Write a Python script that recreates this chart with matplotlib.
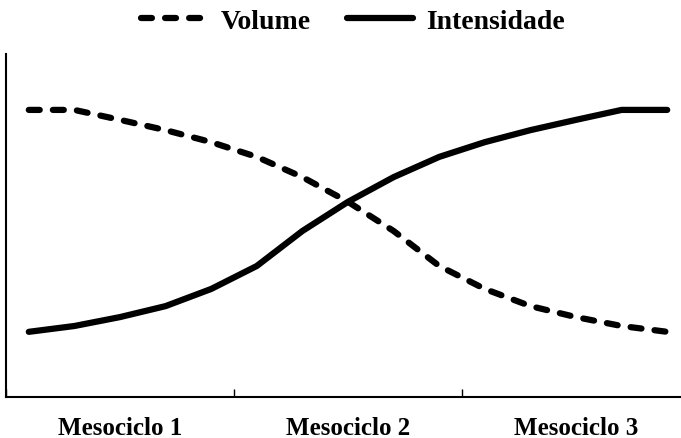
import matplotlib.pyplot as plt
import numpy as np

plt.rcParams['font.family'] = ['Liberation Serif', 'DejaVu Serif']
plt.rcParams['font.weight'] = 'bold'

# data (arbitrary 0-10 scale)
semanas = np.arange(15)
volume = [8.37, 8.37, 8.08, 7.78, 7.43, 7.0, 6.41, 5.69, 4.84, 3.82, 3.15, 2.65, 2.33, 2.07, 1.9]
intensidade = [1.9, 2.07, 2.33, 2.65, 3.15, 3.82, 4.84, 5.69, 6.41, 7.0, 7.43, 7.78, 8.08, 8.37, 8.37]
mesociclos = ['Mesociclo 1', 'Mesociclo 2', 'Mesociclo 3']

fig = plt.figure(figsize=(6.81, 4.39), dpi=100)
# axes runs a little past the right edge, like the original
ax = fig.add_axes([6 / 681, 1 - 398 / 439, 684 / 681, 343 / 439])

ax.plot(semanas, volume, color='black', lw=4.5, ls=(0, (1.75, 2.1)),
        dash_capstyle='round', label='Volume')
ax.plot(semanas, intensidade, color='black', lw=4.5,
        solid_capstyle='round', label='Intensidade')

ax.set_xlim(-0.5, 14.5)
ax.set_ylim(0, 10)

for s in ['top', 'right']:
    ax.spines[s].set_visible(False)
for s in ['left', 'bottom']:
    ax.spines[s].set_linewidth(1.5)

ax.set_yticks([])
ax.set_xticks([-0.5, 4.5, 9.5, 14.5])
ax.set_xticklabels([])
ax.tick_params(axis='x', direction='in', length=6, width=1)
ax.set_xticks([2, 7, 12], minor=True)
ax.set_xticklabels(mesociclos, minor=True, fontsize=18, fontweight='bold')
ax.tick_params(axis='x', which='minor', length=0, pad=14)

fig.legend(loc='upper center', bbox_to_anchor=(0.518, 1.035), ncol=2, frameon=False,
           handlelength=2.4, handletextpad=0.45, columnspacing=1.3,
           prop={'weight': 'bold', 'size': 20})

fig.savefig('out.png', dpi=100)
